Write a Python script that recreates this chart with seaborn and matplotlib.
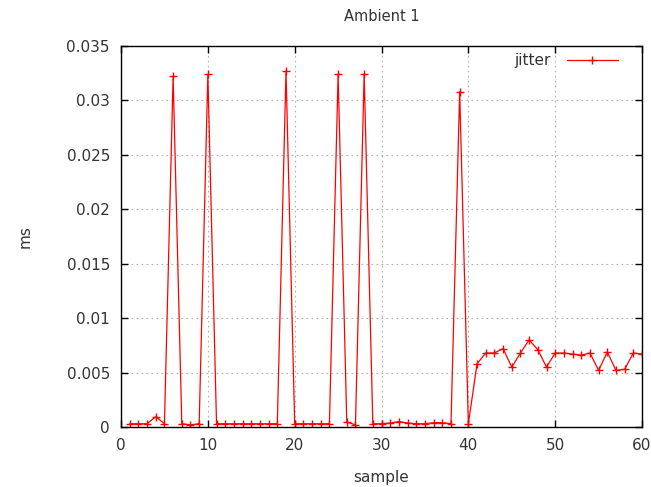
import pandas as pd
import matplotlib
matplotlib.use('Agg')
import matplotlib.pyplot as plt
import seaborn as sb

sample = list(range(1, 61))
jitter = [0.0003, 0.0003, 0.0003, 0.00095, 0.0003, 0.0322, 0.0003, 0.0002, 0.0003, 0.0324,
          0.0003, 0.0003, 0.0003, 0.0003, 0.0003, 0.0003, 0.0003, 0.0003, 0.0327, 0.0003,
          0.0003, 0.0003, 0.0003, 0.0003, 0.0324, 0.00046, 0.0002, 0.0324, 0.0003, 0.0003,
          0.00037, 0.0005, 0.00037, 0.0003, 0.0003, 0.0004, 0.0004, 0.0003, 0.0308, 0.0003,
          0.0058, 0.0068, 0.0068, 0.0072, 0.0055, 0.0068, 0.0080, 0.0071, 0.0055, 0.0068,
          0.0068, 0.0067, 0.0066, 0.0068, 0.0052, 0.0069, 0.0052, 0.0053, 0.0068, 0.0067]

df = pd.DataFrame({'sample': sample, 'jitter': jitter})

sb.set_style('ticks')
plt.rcParams['font.family'] = ['DejaVu Sans']
txt = '#333333'

fig = plt.figure(figsize=(6.51, 4.87), dpi=100)
ax = fig.add_axes([0.1859, 0.1232, 0.8003, 0.7823])

sb.lineplot(data=df, x='sample', y='jitter', ax=ax, color='red', linewidth=0.9,
            marker='+', markersize=5.5, markeredgewidth=1, markeredgecolor='red',
            label='jitter')

ax.set_xlim(0, 60)
ax.set_ylim(0, 0.035)
ax.set_xticks(range(0, 61, 10))
ax.set_yticks([0, 0.005, 0.01, 0.015, 0.02, 0.025, 0.03, 0.035])
ax.set_yticklabels(['0', '0.005', '0.01', '0.015', '0.02', '0.025', '0.03', '0.035'])
ax.grid(True, color='#b0b0b0', linestyle=(0, (1.5, 3)), linewidth=0.8)
ax.tick_params(direction='in', length=5, width=1, top=True, right=True,
               labelsize=11, colors='black', labelcolor=txt, pad=8)
for s in ax.spines.values():
    s.set_color('black')
    s.set_linewidth(1)

ax.set_title('Ambient 1', fontsize=10.5, color=txt, pad=18)
ax.set_xlabel('sample', fontsize=11, color=txt, labelpad=12)
ax.set_ylabel('ms', fontsize=11, color=txt, labelpad=24)

ax.legend(loc='upper right', bbox_to_anchor=(0.956, 0.985), frameon=False,
          markerfirst=False, fontsize=11, handlelength=3.3, handletextpad=1.1,
          labelcolor=txt, borderaxespad=0, borderpad=0.1)

fig.savefig('out.png', dpi=100)
